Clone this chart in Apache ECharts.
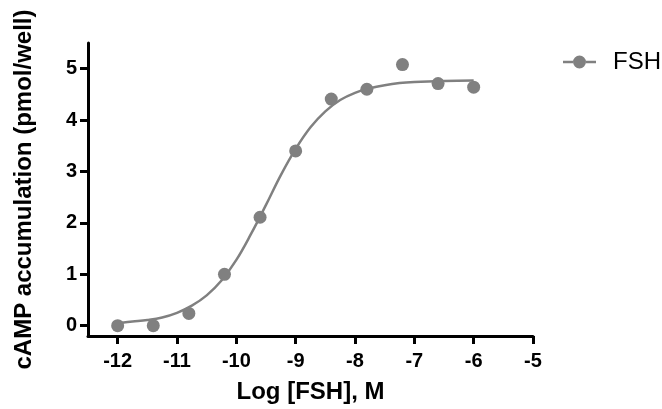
<!DOCTYPE html>
<html>
<head>
<meta charset="utf-8">
<script src="https://cdn.jsdelivr.net/npm/echarts@6/dist/echarts.min.js"></script>
<style>
  html, body { margin: 0; padding: 0; background: #fff; }
  #chart { width: 662px; height: 409px; }
</style>
</head>
<body>
<div id="chart"></div>
<script>
// Measured cAMP response at each FSH concentration (log M)
const doseLog = [-12, -11.4, -10.8, -10.2, -9.6, -9.0, -8.4, -7.8, -7.2, -6.6, -6.0];
const campValues = [0.0, 0.0, 0.24, 1.0, 2.11, 3.40, 4.41, 4.60, 5.08, 4.71, 4.64];

// Fitted dose-response curve, sampled along the drawn line
const curveLog = [-12, -11.75, -11.5, -11.25, -11, -10.75, -10.5, -10.25, -10, -9.75, -9.5,
                  -9.25, -9, -8.75, -8.5, -8.25, -8, -7.75, -7.5, -7.25, -7, -6.5, -6];
const curveValues = [0.05, 0.08, 0.11, 0.16, 0.25, 0.39, 0.59, 0.88, 1.28, 1.79, 2.35,
                     2.93, 3.44, 3.86, 4.17, 4.39, 4.53, 4.62, 4.68, 4.72, 4.74, 4.76, 4.77];

// Axis ticks
const xTicks = [-12, -11, -10, -9, -8, -7, -6, -5];
const yTicks = [0, 1, 2, 3, 4, 5];

const seriesName = 'FSH';
const gray = '#808080';
const fontFamily = 'Arial, "Liberation Sans", Helvetica, sans-serif';

const chart = echarts.init(document.getElementById('chart'), null, { renderer: 'canvas' });

const axisLineStyle = { color: '#000', width: 3 };

chart.setOption({
  animation: false,
  backgroundColor: '#fff',
  grid: { left: 88, right: 129, top: 43, bottom: 70, containLabel: false },
  legend: {
    left: 558,
    top: 45,
    itemWidth: 33,
    itemHeight: 13,
    data: [{
      name: seriesName,
      icon: 'path://M0 5.25H10V7.75H0Z M23 5.25H33V7.75H23Z M10 6.5A6.5 6.5 0 1 1 23 6.5A6.5 6.5 0 1 1 10 6.5Z'
    }],
    itemStyle: { color: gray },
    textStyle: { fontFamily, fontSize: 24, color: '#000', padding: [0, 0, 0, 12] },
    selectedMode: false
  },
  xAxis: {
    type: 'value',
    min: -12.5,
    max: -5,
    name: 'Log [FSH], M',
    nameLocation: 'middle',
    nameGap: 44,
    nameTextStyle: { fontFamily, fontSize: 24, fontWeight: 'bold', color: '#000' },
    splitLine: { show: false },
    axisLine: { show: true, onZero: false, lineStyle: axisLineStyle },
    axisTick: { show: true, customValues: xTicks, length: 8, lineStyle: axisLineStyle },
    axisLabel: {
      customValues: xTicks,
      margin: 15,
      fontFamily, fontSize: 20, fontWeight: 'bold', color: '#000'
    }
  },
  yAxis: {
    type: 'value',
    min: -0.2,
    max: 5.5,
    name: 'cAMP accumulation (pmol/well)',
    nameLocation: 'middle',
    nameGap: 52,
    nameRotate: 90,
    nameTextStyle: { fontFamily, fontSize: 24, fontWeight: 'bold', color: '#000' },
    splitLine: { show: false },
    axisLine: { show: true, onZero: false, lineStyle: axisLineStyle },
    axisTick: { show: true, customValues: yTicks, length: 8, lineStyle: axisLineStyle },
    axisLabel: {
      customValues: yTicks,
      margin: 11,
      fontFamily, fontSize: 20, fontWeight: 'bold', color: '#000'
    }
  },
  series: [
    {
      name: seriesName + ' fit',
      type: 'line',
      data: curveLog.map((x, i) => [x, curveValues[i]]),
      smooth: 0.4,
      showSymbol: false,
      symbol: 'none',
      lineStyle: { color: gray, width: 2.5 },
      z: 2,
      silent: true
    },
    {
      name: seriesName,
      type: 'scatter',
      data: doseLog.map((x, i) => [x, campValues[i]]),
      symbol: 'circle',
      symbolSize: 13,
      itemStyle: { color: gray, opacity: 1 },
      z: 3
    }
  ]
});
</script>
</body>
</html>
